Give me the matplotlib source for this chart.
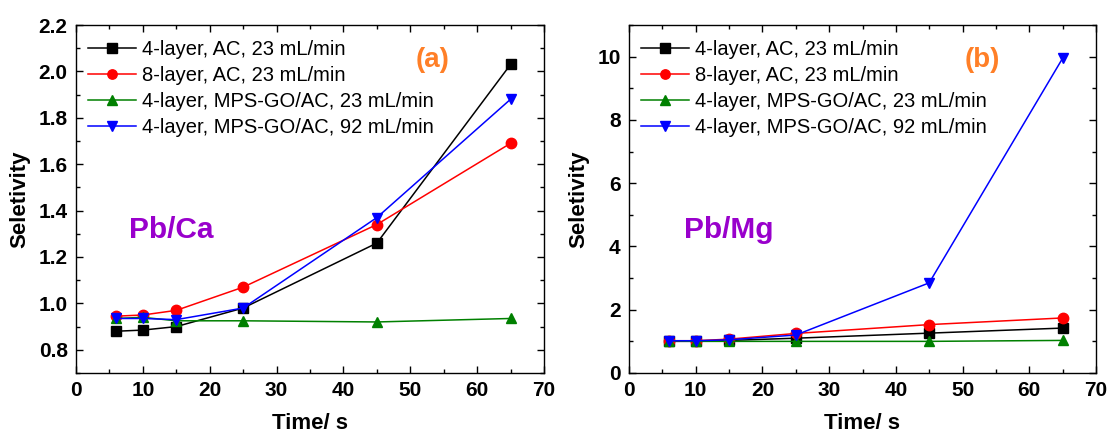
import matplotlib
matplotlib.use("Agg")
import matplotlib.pyplot as plt
from matplotlib.ticker import MultipleLocator, FormatStrFormatter

plt.rcParams['font.family'] = ['Liberation Sans', 'DejaVu Sans']

time_s = [6, 10, 15, 25, 45, 65]
labels = ["4-layer, AC, 23 mL/min", "8-layer, AC, 23 mL/min",
          "4-layer, MPS-GO/AC, 23 mL/min", "4-layer, MPS-GO/AC, 92 mL/min"]

ca_4ac = [0.88, 0.885, 0.90, 0.98, 1.26, 2.03]
ca_8ac = [0.945, 0.95, 0.97, 1.07, 1.34, 1.69]
ca_mps23 = [0.935, 0.94, 0.925, 0.925, 0.92, 0.935]
ca_mps92 = [0.935, 0.935, 0.93, 0.98, 1.37, 1.88]

mg_4ac = [1.0, 1.0, 1.03, 1.1, 1.26, 1.42]
mg_8ac = [1.02, 1.02, 1.07, 1.25, 1.53, 1.74]
mg_mps23 = [1.02, 1.0, 1.0, 1.0, 1.0, 1.03]
mg_mps92 = [1.02, 1.02, 1.05, 1.2, 2.85, 9.95]

colors = ['black', '#FF0000', '#008000', '#0000FF']
markers = ['s', 'o', '^', 'v']

fig = plt.figure(figsize=(11.11, 4.37), dpi=100)
W, H = 1111, 437
ax1 = fig.add_axes([76 / W, 1 - 373 / H, 468 / W, 348 / H])
ax2 = fig.add_axes([629 / W, 1 - 373 / H, 467 / W, 348 / H])

def draw(ax, series, ylim, major, minor, tag, ion, tagx, ionx):
    for s, c, m, lab in zip(series, colors, markers, labels):
        ax.plot(time_s, s, color=c, marker=m, markersize=7.5, lw=1.1, label=lab)
    ax.set_xlim(0, 70)
    ax.set_ylim(*ylim)
    ax.xaxis.set_major_locator(MultipleLocator(10))
    ax.xaxis.set_minor_locator(MultipleLocator(5))
    ax.yaxis.set_major_locator(MultipleLocator(major))
    ax.yaxis.set_minor_locator(MultipleLocator(minor))
    ax.tick_params(which='both', direction='in', top=True, right=True, width=1.0)
    ax.tick_params(which='major', length=5, labelsize=15, pad=6)
    ax.tick_params(which='minor', length=3)
    for sp in ax.spines.values():
        sp.set_linewidth(1.0)
    ax.set_xlabel('Time/ s', fontsize=16, fontweight='bold', labelpad=9)
    ax.set_ylabel('Seletivity', fontsize=16, fontweight='bold', labelpad=6)
    ax.legend(loc='upper left', bbox_to_anchor=(0.025, 0.956), frameon=False,
              fontsize=14.5, handlelength=2.4, handletextpad=0.3,
              labelspacing=0.35, borderaxespad=0.0, borderpad=0.0,
              markerscale=0.9)
    ax.text(tagx, 0.898, tag, transform=ax.transAxes, color='#FF7F27',
            fontsize=20, fontweight='bold', ha='center', va='center')
    ax.text(ionx, 0.41, ion, transform=ax.transAxes, color='#9900CC',
            fontsize=21.5, fontweight='bold', ha='center', va='center')

draw(ax1, [ca_4ac, ca_8ac, ca_mps23, ca_mps92], (0.7, 2.2), 0.2, 0.1,
     '(a)', 'Pb/Ca', 0.761, 0.203)
draw(ax2, [mg_4ac, mg_8ac, mg_mps23, mg_mps92], (0, 11), 2, 1,
     '(b)', 'Pb/Mg', 0.756, 0.214)
ax1.yaxis.set_major_formatter(FormatStrFormatter('%.1f'))

for ax in (ax1, ax2):
    for lbl in ax.get_xticklabels() + ax.get_yticklabels():
        lbl.set_fontweight('bold')

fig.savefig('out.png', dpi=100)
